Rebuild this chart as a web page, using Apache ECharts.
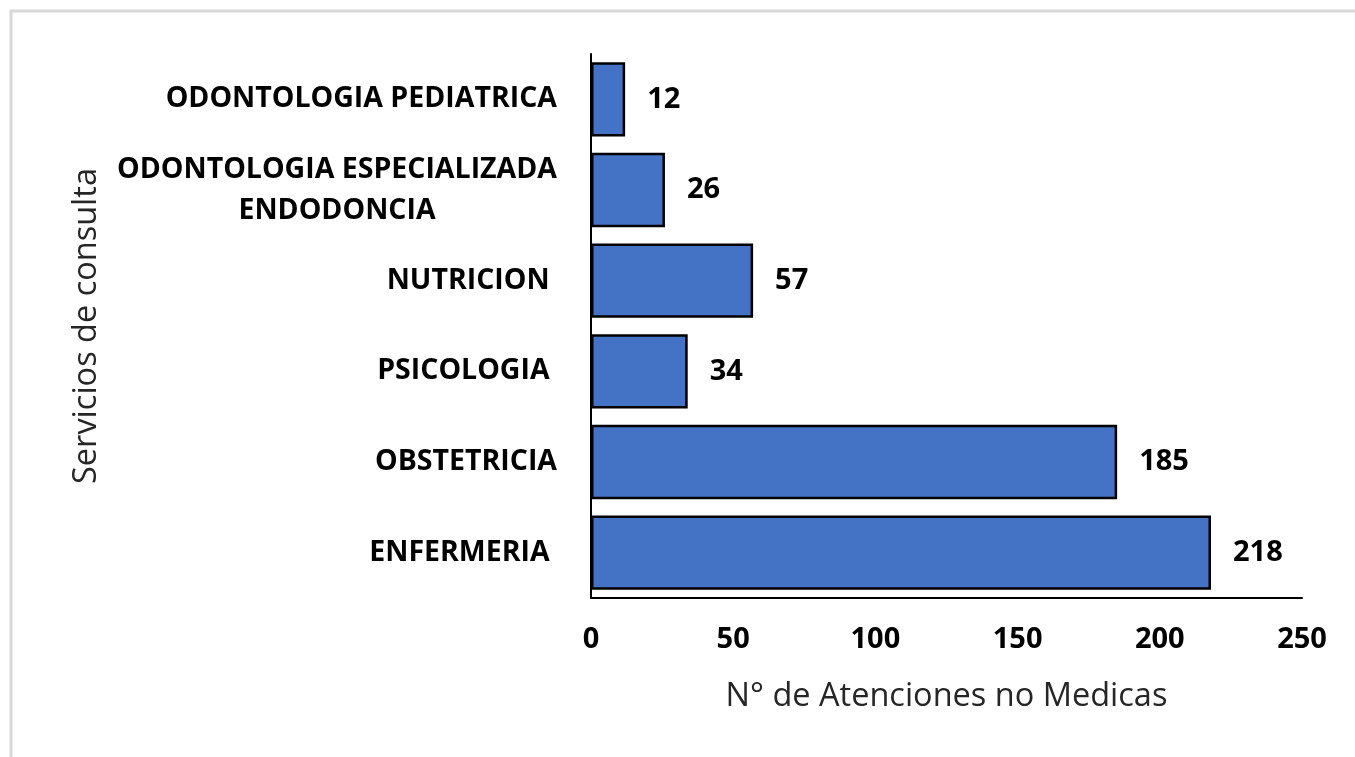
<!DOCTYPE html>
<html>
<head>
<meta charset="utf-8">
<style>
  html, body { margin: 0; padding: 0; background: #fff; }
  #chart { width: 1355px; height: 757px; }
</style>
<script src="https://cdn.jsdelivr.net/npm/echarts@6/dist/echarts.min.js"></script>
</head>
<body>
<div id="chart"></div>
<script>
// categorias de abajo hacia arriba (orden de Excel)
const servicios = [
  'ENFERMERIA ',
  'OBSTETRICIA',
  'PSICOLOGIA ',
  'NUTRICION ',
  'ODONTOLOGIA ESPECIALIZADA\nENDODONCIA',
  'ODONTOLOGIA PEDIATRICA'
];
const atenciones = [218, 185, 34, 57, 26, 12];
const xTicks = [0, 50, 100, 150, 200, 250];

const FONT = '"Open Sans", sans-serif';
const SIZE = 28.5;

const chart = echarts.init(document.getElementById('chart'));

chart.setOption({
  animation: false,
  backgroundColor: '#fff',
  textStyle: { fontFamily: FONT },
  graphic: [{
    type: 'rect',
    shape: { x: 11, y: 11, width: 1400, height: 800 },
    style: { fill: 'none', stroke: '#d9d9d9', lineWidth: 3 },
    silent: true
  }],
  grid: { left: 591, right: 53, top: 54, bottom: 159 },
  xAxis: {
    type: 'value',
    min: xTicks[0],
    max: xTicks[xTicks.length - 1],
    interval: xTicks[1] - xTicks[0],
    name: 'N° de Atenciones no Medicas',
    nameLocation: 'middle',
    nameGap: 82,
    nameTextStyle: { color: '#262626', fontSize: 32.5, fontFamily: FONT },
    axisLine: { show: true, lineStyle: { color: '#000', width: 2 } },
    axisTick: { show: false },
    splitLine: { show: false },
    axisLabel: { color: '#000', fontWeight: 'bold', fontSize: 29, margin: 27, fontFamily: FONT }
  },
  yAxis: {
    type: 'category',
    data: servicios,
    name: 'Servicios de consulta',
    nameLocation: 'middle',
    nameGap: 488,
    nameTextStyle: { color: '#262626', fontSize: 32.5, fontFamily: FONT },
    axisLine: { show: true, lineStyle: { color: '#000', width: 2 } },
    axisTick: { show: false },
    axisLabel: {
      margin: 34,
      color: '#000',
      fontWeight: 'bold',
      fontSize: SIZE,
      fontFamily: FONT,
      formatter: function (v) {
        if (v.indexOf('\n') < 0) return v;
        return v.split('\n').map(function (s) { return '{c|' + s + '}'; }).join('\n');
      },
      rich: {
        c: { align: 'center', color: '#000', fontWeight: 'bold', fontSize: SIZE, fontFamily: FONT, lineHeight: 41 }
      }
    }
  },
  series: [{
    type: 'bar',
    data: atenciones,
    barCategoryGap: '18%',
    itemStyle: { color: '#4472c4', borderColor: '#000', borderWidth: 2.5 },
    label: {
      show: true,
      position: 'right',
      distance: 22,
      color: '#000',
      fontWeight: 'bold',
      fontSize: 29,
      fontFamily: FONT
    }
  }]
});
</script>
</body>
</html>
